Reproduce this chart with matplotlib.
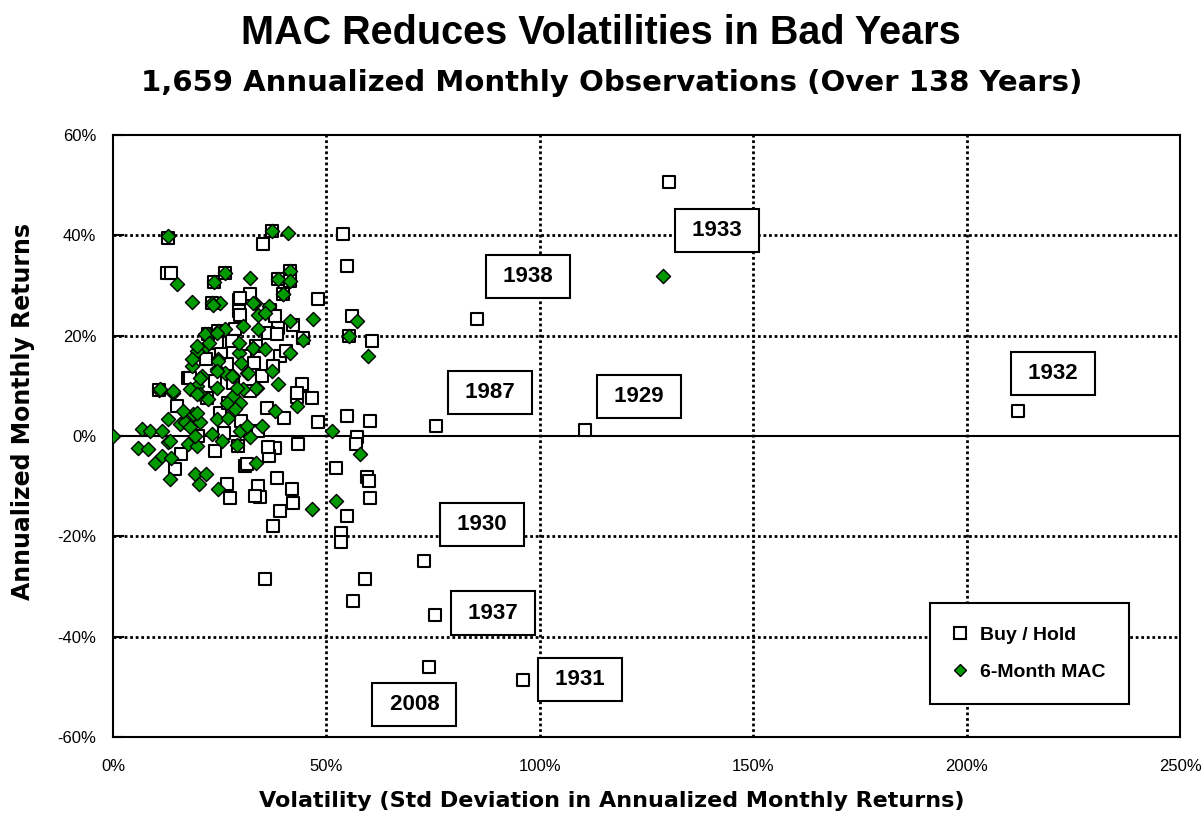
import matplotlib
matplotlib.use("Agg")
import matplotlib.pyplot as plt
from matplotlib.lines import Line2D

plt.rcParams['font.family'] = ['Liberation Sans', 'DejaVu Sans']

# buy / hold : (volatility %, annualized return %)
bh_vol = [130.3, 85.2, 75.6, 110.5, 212.0, 72.8, 75.5, 74.0, 96.0,
          53.8, 54.8, 48.0, 55.9, 55.3, 60.6, 54.7, 60.2, 48.0, 57.1, 57.0,
          52.2, 59.4, 60.0, 60.2, 54.7, 53.5, 53.3, 59.0, 56.2,
          35.2, 37.2, 41.5, 38.7, 41.5, 39.8, 44.2, 46.5, 43.0, 38.0, 43.4,
          35.6, 42.2, 39.1, 37.5, 41.9, 38.3, 34.0, 34.4, 36.0, 40.0,
          23.9, 30.9, 14.5, 26.6, 27.4, 33.3, 29.3, 10.8, 14.9, 17.6,
          21.9, 24.3, 13.0, 12.6, 23.1, 23.7, 26.2, 32.1, 29.4, 29.4,
          22.3, 24.7, 28.6, 29.8, 29.8, 36.8, 38.7, 42.2, 36.4, 38.3,
          27.8, 25.4, 39.1, 26.6, 37.5, 44.2, 43.0, 32.1, 18.0, 44.5,
          40.5, 33.5, 31.0, 35.0, 28.0, 22.0, 25.0, 30.0, 34.0, 36.5,
          26.0, 20.0, 16.0, 13.5, 36.3, 31.5, 27.0, 33.0, 38.0, 24.0]
bh_ret = [50.6, 23.4, 2.0, 1.2, 5.0, -25.0, -35.6, -46.0, -48.7,
          40.2, 33.9, 27.3, 23.9, 19.9, 18.9, 4.0, 3.0, 2.7, -0.3, -1.6,
          -6.3, -8.2, -9.0, -12.3, -15.9, -19.3, -21.2, -28.5, -32.9,
          38.2, 40.8, 32.9, 31.3, 30.9, 28.3, 10.0, 7.6, 7.8, -2.3, -1.6,
          -28.5, -13.3, -14.9, -17.9, -10.6, -8.3, -10.0, -12.1, 5.5, 3.5,
          -3.0, -6.0, -6.6, -9.6, -12.3, -12.0, -2.0, 9.1, 6.0, 11.6,
          15.3, 18.6, 39.5, 32.5, 26.6, 30.7, 32.5, 28.2, 27.2, 24.9,
          20.3, 20.9, 21.3, 27.6, 24.2, 25.2, 21.6, 22.2, 20.6, 20.3,
          18.9, 16.3, 15.9, 14.3, 13.9, 10.3, 8.6, 9.0, 11.6, 19.5,
          17.0, 18.0, 16.0, 12.0, 10.5, 7.5, 4.5, 3.0, 1.0, -4.0,
          0.5, 0.0, -3.5, 32.5, -2.2, -5.5, 6.5, 14.5, 24.0, 11.0]

# 6-month MAC
mac_vol = [128.8, 57.1, 55.3, 46.9, 37.2, 40.9, 41.5, 38.7, 41.5, 39.8,
           59.8, 43.0, 51.2, 57.9, 38.7, 33.7, 52.2, 46.5, 33.6,
           5.9, 8.2, 9.8, 11.4, 13.7, 13.4, 19.2, 21.8, 20.2, 24.6,
           29.0, 12.9, 17.6, 19.6, 0.0, 6.7, 8.7, 11.4, 13.4, 10.8,
           14.1, 13.0, 15.7, 16.9, 18.8, 20.4, 18.0, 19.2,
           19.6, 21.9, 18.4, 20.8, 24.7, 24.3, 19.6, 18.0, 20.4, 24.3,
           22.3, 26.2, 28.2, 31.3, 29.4, 32.9, 30.5, 28.2, 26.6, 29.8,
           28.6, 19.6, 24.3, 23.1, 29.8, 32.1, 31.3,
           13.0, 15.0, 18.6, 23.1, 25.1, 23.7, 26.2, 32.1, 33.3, 30.5,
           22.3, 24.7, 26.2, 19.6, 23.5, 32.9, 34.0, 39.9, 41.5, 34.0,
           21.5, 24.3, 29.4, 32.9, 35.6, 41.5, 44.6, 18.4, 24.7, 24.3,
           27.8, 31.7, 33.6, 37.2, 11.0, 14.1, 20.4, 19.6, 29.0,
           38.0, 35.0, 36.5, 16.5, 22.5, 27.0, 35.5, 25.5, 30.0]
mac_ret = [31.8, 22.9, 19.9, 23.3, 40.8, 40.5, 32.9, 31.3, 30.9, 28.3,
           15.9, 6.0, 1.0, -3.6, 10.3, 9.6, -13.0, -14.6, -5.3,
           -2.3, -2.6, -5.3, -4.0, -4.3, -8.6, -7.6, -7.5, -9.5, -10.6,
           -1.8, -1.3, -1.6, -2.0, 0.0, 1.3, 1.0, 1.0, -1.0, 9.1,
           8.6, 3.3, 2.3, 2.7, 4.3, 2.7, 1.7, 0.0,
           16.9, 17.9, 13.9, 12.0, 15.3, 13.3, 10.0, 9.4, 8.4, 9.6,
           7.3, 12.6, 12.0, 12.6, 16.6, 17.6, 9.3, 8.0, 6.6, 6.6,
           5.3, 4.6, 3.3, 0.3, 1.0, -0.3, 2.0,
           39.8, 30.3, 26.8, 26.6, 26.6, 30.7, 32.5, 31.5, 26.6, 21.9,
           20.3, 20.9, 21.3, 17.9, 26.2, 26.6, 24.2, 28.2, 22.9, 21.3,
           20.3, 20.6, 18.6, 17.6, 17.3, 16.6, 19.2, 15.3, 14.9, 12.9,
           12.0, 12.6, 9.6, 12.9, 9.3, 9.0, 11.6, 8.3, 9.6,
           5.0, 2.0, 26.0, 5.0, 18.5, 3.5, 24.5, -1.0, 14.5]

label_years = ['1933', '1938', '1987', '1929', '1932', '1930', '1937', '1931', '2008']
label_vol = [141.5, 97.1, 88.2, 123.2, 220.1, 86.5, 89.0, 109.4, 70.6]
label_ret = [40.9, 31.8, 8.6, 7.9, 12.5, -17.7, -35.3, -48.6, -53.5]

fig = plt.figure(figsize=(12.02, 8.13), dpi=100)
ax = fig.add_axes([0.094, 0.0935, 0.888, 0.7405])

ax.scatter(bh_vol, bh_ret, s=85, marker='s', facecolor='white',
           edgecolor='black', linewidth=1.5, zorder=3)
ax.scatter(mac_vol, mac_ret, s=52, marker='D', facecolor='#009900',
           edgecolor='black', linewidth=1.0, zorder=4)

for yr, x, y in zip(label_years, label_vol, label_ret):
    ax.text(x, y, ' ' + yr + ' ', fontsize=16, fontweight='bold',
            ha='center', va='center', zorder=5,
            bbox=dict(boxstyle='square,pad=0.5', fc='white', ec='black', lw=1.5))

ax.set_xlim(0, 250)
ax.set_ylim(-60, 60)
ax.set_xticks(range(0, 251, 50))
ax.set_yticks(range(-60, 61, 20))
ax.set_xticklabels([f'{v}%' for v in range(0, 251, 50)], fontsize=12)
ax.set_yticklabels([f'{v}%' for v in range(-60, 61, 20)], fontsize=12)
ax.tick_params(axis='x', length=0, pad=16)
ax.tick_params(axis='y', direction='in', length=8, width=1.5, pad=12)

for v in [50, 100, 150, 200]:
    ax.axvline(v, color='black', lw=2, ls=(0, (1, 1)), zorder=1)
for v in [-40, -20, 20, 40]:
    ax.axhline(v, color='black', lw=2, ls=(0, (1, 1)), zorder=1)
ax.axhline(0, color='black', lw=1.5, zorder=1)

for sp in ax.spines.values():
    sp.set_linewidth(1.5)

handles = [Line2D([], [], marker='s', ls='none', ms=8, mfc='white', mec='black', mew=1.5),
           Line2D([], [], marker='D', ls='none', ms=6, mfc='#009900', mec='black', mew=1.0)]
leg = ax.legend(handles, ['Buy / Hold', '6-Month MAC'], loc='lower right',
                bbox_to_anchor=(0.952, 0.054), prop={'weight': 'bold', 'size': 14},
                fancybox=False, framealpha=1, edgecolor='black',
                borderpad=1.2, labelspacing=1.0, handletextpad=0.7, handlelength=0.7,
                borderaxespad=0)
leg.get_frame().set_linewidth(1.5)
leg.set_zorder(6)

fig.text(0.5, 1 - 33 / 813, 'MAC Reduces Volatilities in Bad Years',
         ha='center', va='center', fontsize=28.5, fontweight='bold')
fig.text(0.509, 1 - 83 / 813, '1,659 Annualized Monthly Observations (Over 138 Years)',
         ha='center', va='center', fontsize=21, fontweight='bold', family='DejaVu Sans')
fig.text(0.509, 1 - 801 / 813, 'Volatility (Std Deviation in Annualized Monthly Returns)',
         ha='center', va='center', fontsize=16, fontweight='bold', family='DejaVu Sans')
fig.text(0.019, 0.494, 'Annualized Monthly Returns', rotation=90,
         ha='center', va='center', fontsize=17, fontweight='bold', family='DejaVu Sans')

fig.savefig('out.png', dpi=100)
